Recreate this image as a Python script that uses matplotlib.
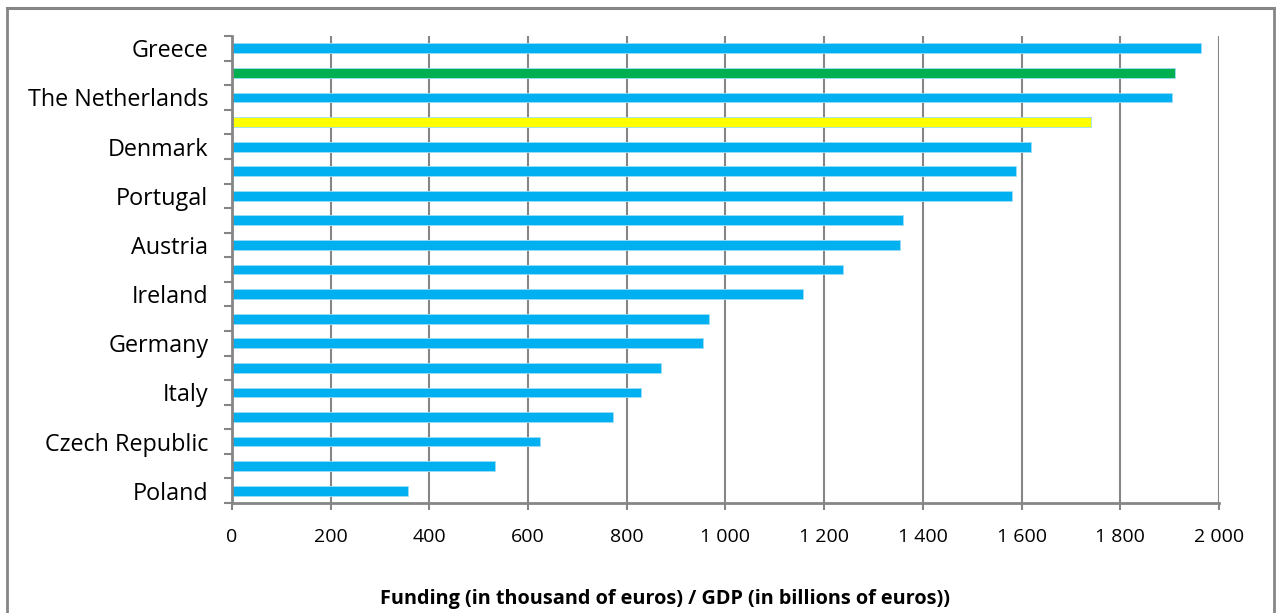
import numpy as np
import matplotlib.pyplot as plt
from matplotlib.lines import Line2D
from matplotlib.ticker import FuncFormatter, MultipleLocator

plt.rcParams["font.family"] = ["Open Sans", "DejaVu Sans"]

# 19 countries, top to bottom; only every other one is labelled on the axis
labels = ["Greece", "", "The Netherlands", "", "Denmark", "", "Portugal", "",
          "Austria", "", "Ireland", "", "Germany", "", "Italy", "",
          "Czech Republic", "", "Poland"]
values = [1963, 1911, 1904, 1740, 1620, 1588, 1581, 1359, 1353, 1239,
          1158, 966, 954, 869, 828, 773, 624, 532, 357]
colors = ["#00B0F0", "#00B050", "#00B0F0", "#FFFF00"] + ["#00B0F0"] * 15

fig = plt.figure(figsize=(12.76, 6.13), dpi=100)
ax = fig.add_axes([0.1818, 0.1794, 0.7735, 0.7618])

y = np.arange(len(values))
ax.barh(y, values, height=0.4, color=colors, edgecolor="#9CDDF7",
        linewidth=0.6, zorder=3)

ax.set_xlim(0, 2000)
ax.set_ylim(len(values) - 0.5, -0.5)

# vertical gridlines every 200
ax.xaxis.set_major_locator(MultipleLocator(200))
ax.xaxis.set_major_formatter(FuncFormatter(lambda v, p: f"{int(v):,}".replace(",", " ")))
ax.grid(axis="x", color="#868686", linewidth=1.5, zorder=0)

# labels on even rows, tick marks between rows
ax.set_yticks(y[::2])
ax.set_yticklabels(labels[::2])
ax.set_yticks(np.arange(-0.5, len(values)), minor=True)
ax.tick_params(axis="y", which="major", length=0, pad=17, labelsize=16.8)
ax.tick_params(axis="y", which="minor", length=6, width=1.5, color="#868686")
ax.tick_params(axis="x", length=5, width=1.5, color="#868686", pad=13, labelsize=14)

for side in ["top", "right"]:
    ax.spines[side].set_visible(False)
for side in ["left", "bottom"]:
    ax.spines[side].set_color("#868686")
    ax.spines[side].set_linewidth(2)
ax.spines["left"].set_zorder(4)

ax.set_xlabel("Funding (in thousand of euros) / GDP (in billions of euros))",
              fontsize=14.3, fontweight="bold")
ax.xaxis.set_label_coords(0.4387, -0.184)

# chart frame (open at the bottom)
W, H = 1276, 613
left, right, top = 7 / W, 1274 / W, 1 - 8 / H
fig.add_artist(Line2D([left, left], [0, top], transform=fig.transFigure,
                      color="#868686", linewidth=2, solid_capstyle="projecting"))
fig.add_artist(Line2D([right, right], [0, top], transform=fig.transFigure,
                      color="#868686", linewidth=2, solid_capstyle="projecting"))
fig.add_artist(Line2D([left, right], [top, top], transform=fig.transFigure,
                      color="#868686", linewidth=2.2, solid_capstyle="projecting"))

fig.savefig("out.png", dpi=100)
